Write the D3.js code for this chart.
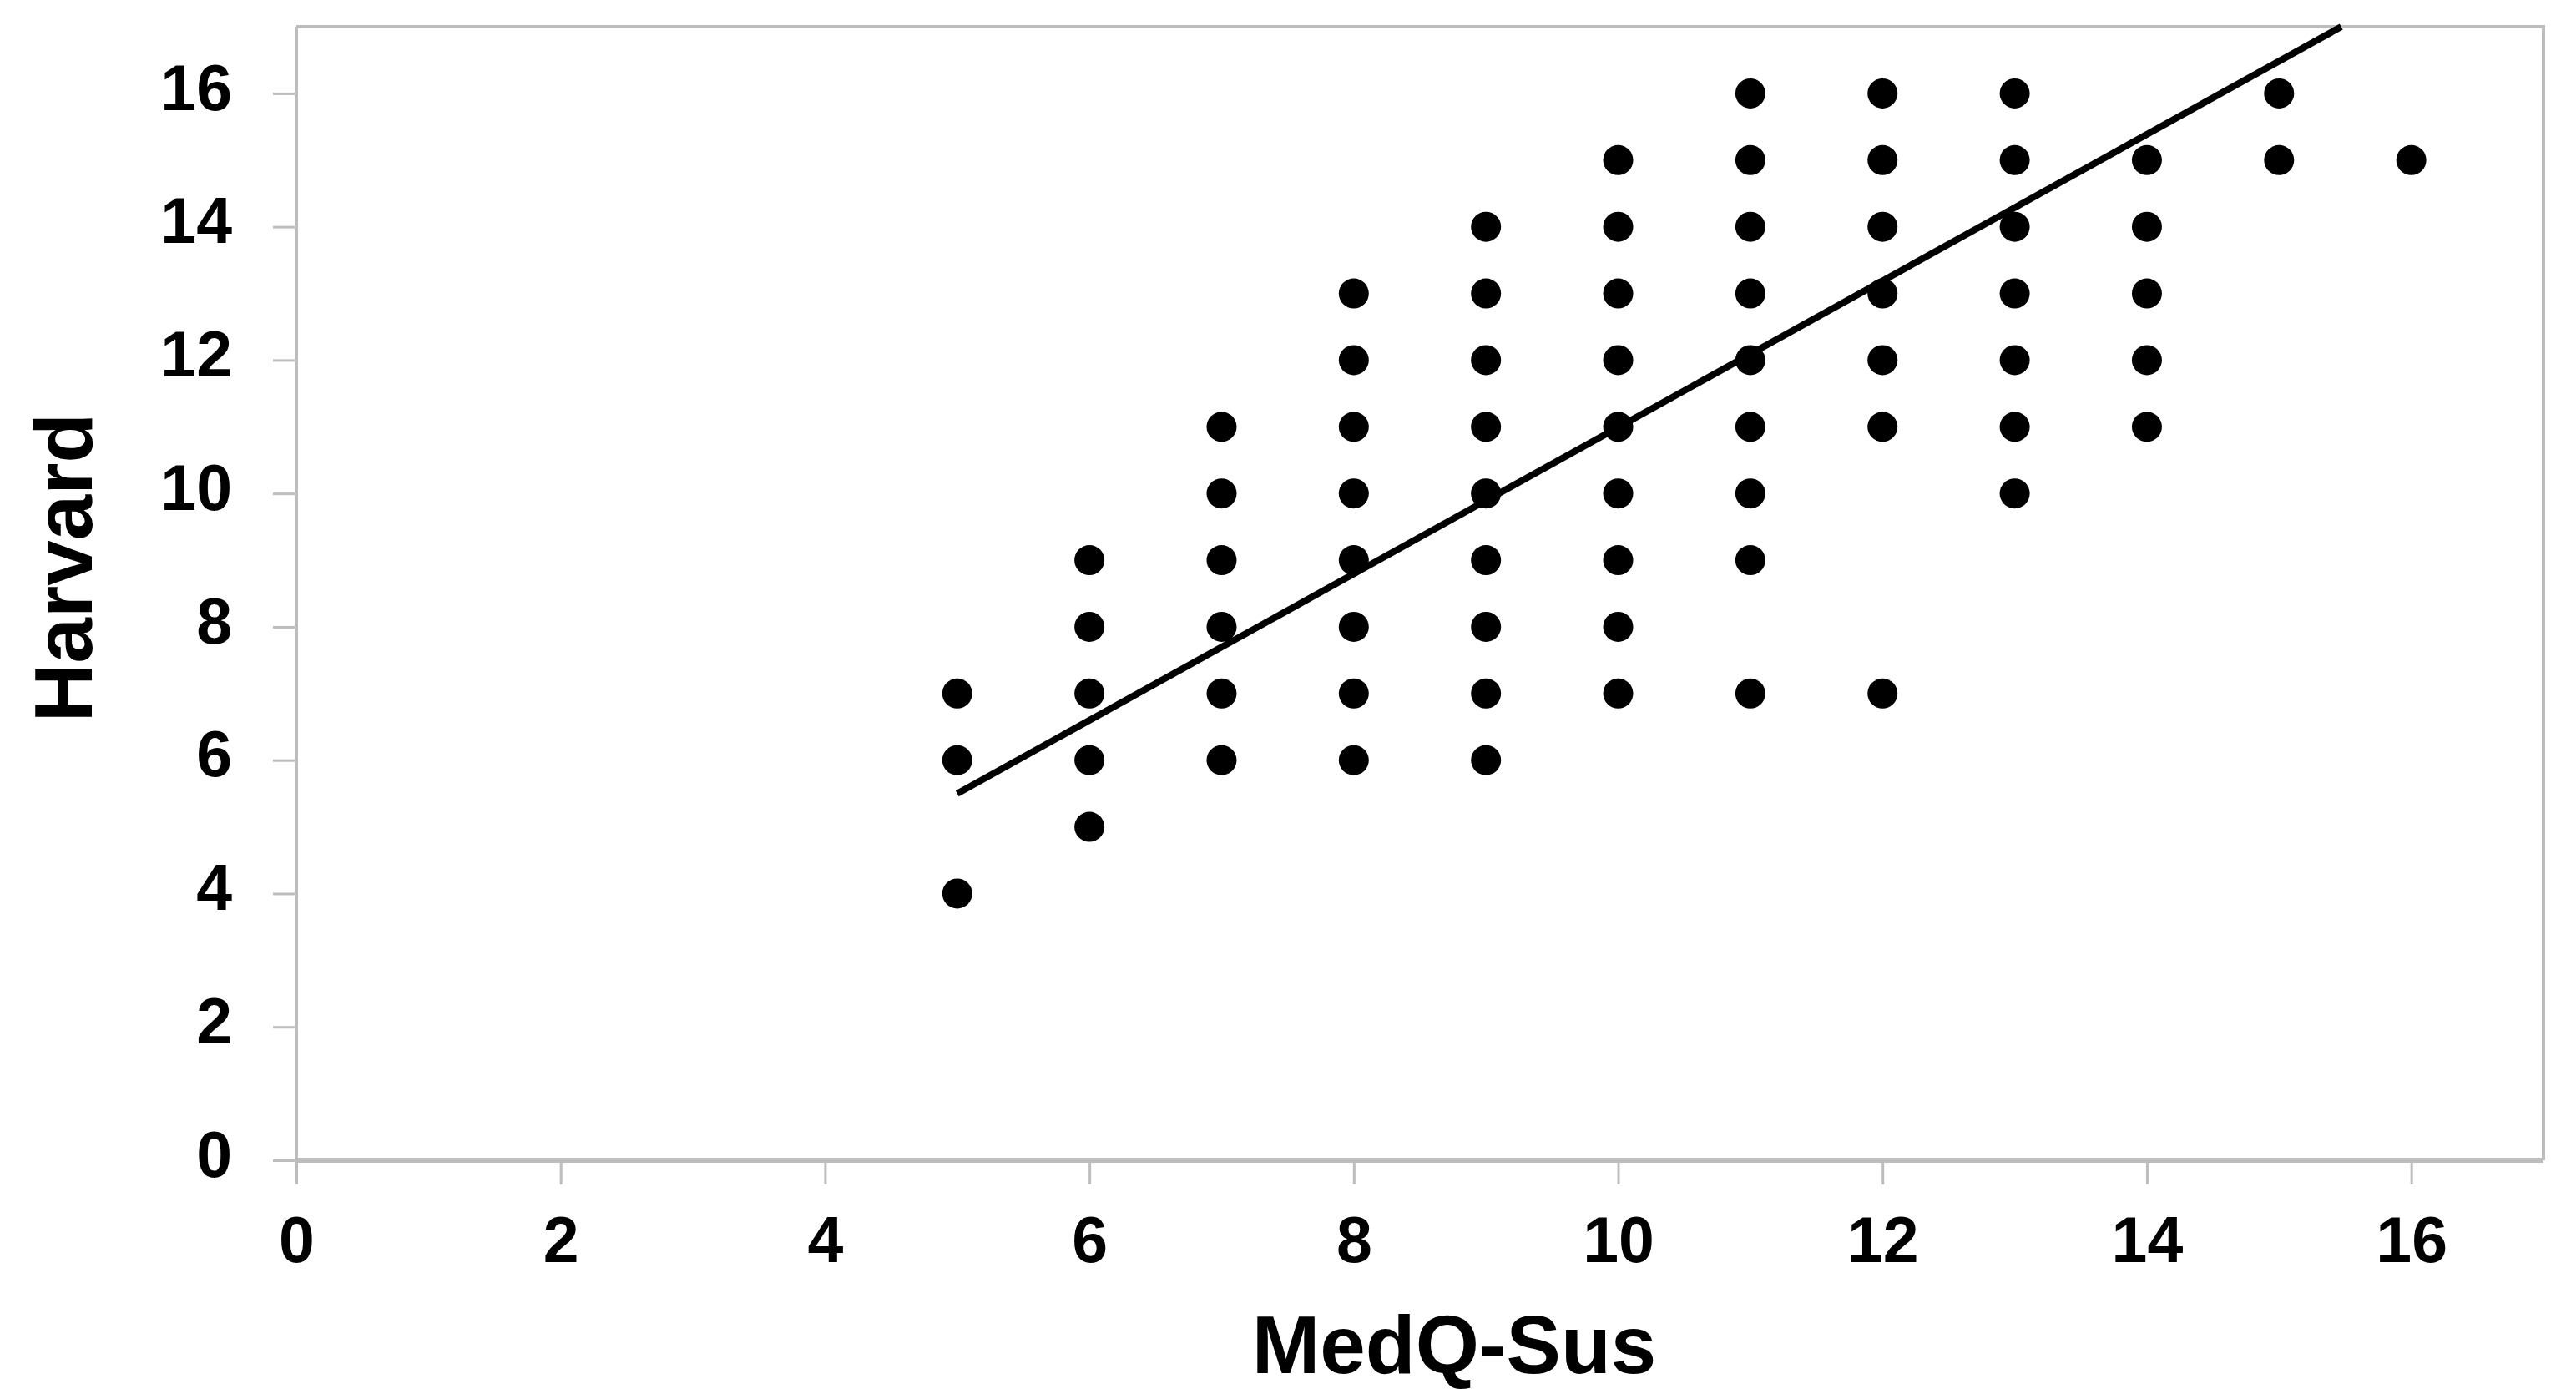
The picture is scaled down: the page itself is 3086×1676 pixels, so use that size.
<!DOCTYPE html>
<html>
<head>
<meta charset="utf-8">
<script src="https://cdn.jsdelivr.net/npm/d3@7"></script>
<style>
  html, body { margin: 0; padding: 0; background: #fff; }
  svg { display: block; }
  text { font-family: "Liberation Sans", Arial, sans-serif; font-weight: bold; fill: #000; }
</style>
</head>
<body>
<svg id="chart" width="3086" height="1676"></svg>
<script>
// ---- data ----
const xTicks = [0, 2, 4, 6, 8, 10, 12, 14, 16];
const yTicks = [0, 2, 4, 6, 8, 10, 12, 14, 16];
const xLabel = "MedQ-Sus";
const yLabel = "Harvard";

// MedQ-Sus score of each point
const pointX = [
  5, 5, 5,
  6, 6, 6, 6, 6,
  7, 7, 7, 7, 7, 7,
  8, 8, 8, 8, 8, 8, 8, 8,
  9, 9, 9, 9, 9, 9, 9, 9, 9,
  10, 10, 10, 10, 10, 10, 10, 10, 10,
  11, 11, 11, 11, 11, 11, 11, 11, 11,
  12, 12, 12, 12, 12, 12, 12,
  13, 13, 13, 13, 13, 13, 13,
  14, 14, 14, 14, 14,
  15, 15,
  16
];
// Harvard score of each point
const pointY = [
  7, 6, 4,
  9, 8, 7, 6, 5,
  11, 10, 9, 8, 7, 6,
  13, 12, 11, 10, 9, 8, 7, 6,
  14, 13, 12, 11, 10, 9, 8, 7, 6,
  15, 14, 13, 12, 11, 10, 9, 8, 7,
  16, 15, 14, 13, 12, 11, 10, 9, 7,
  16, 15, 14, 13, 12, 11, 7,
  16, 15, 14, 13, 12, 11, 10,
  15, 14, 13, 12, 11,
  16, 15,
  15
];
// linear trend line end points
const trendX = [5, 15.47];
const trendY = [5.5, 17];

// ---- layout ----
const plot = { left: 355, right: 3047, top: 32, bottom: 1390 };
const axisColor = "#bdbdbd";

const svg = d3.select("#chart");

const x = d3.scaleLinear().domain([0, 17]).range([plot.left, plot.right]);
const y = d3.scaleLinear().domain([0, 17]).range([plot.bottom, plot.top]);

// plot frame (top & right)
svg.append("path")
  .attr("d", `M${plot.left},${plot.top} H${plot.right} V${plot.bottom}`)
  .attr("fill", "none")
  .attr("stroke", axisColor)
  .attr("stroke-width", 4);

// y axis
const yAxis = svg.append("g")
  .attr("transform", `translate(${plot.left},0)`)
  .call(d3.axisLeft(y).tickValues(yTicks).tickSize(28).tickPadding(49).tickFormat(d3.format("d")));
yAxis.select(".domain").attr("stroke", axisColor).attr("stroke-width", 4)
  .attr("d", `M0,${plot.top} V${plot.bottom}`);
yAxis.selectAll(".tick line").attr("stroke", axisColor).attr("stroke-width", 3);
yAxis.selectAll(".tick text")
  .attr("font-size", 77)
  .attr("font-family", "'Liberation Sans', Arial, sans-serif")
  .attr("font-weight", "bold")
  .attr("fill", "#000")
  .attr("dy", "0.25em");

// x axis
const xAxis = svg.append("g")
  .attr("transform", `translate(0,${plot.bottom})`)
  .call(d3.axisBottom(x).tickValues(xTicks).tickSize(29).tickPadding(58).tickFormat(d3.format("d")));
xAxis.select(".domain").attr("stroke", axisColor).attr("stroke-width", 6)
  .attr("d", `M${plot.left},0 H${plot.right}`);
xAxis.selectAll(".tick line").attr("stroke", axisColor).attr("stroke-width", 3);
xAxis.selectAll(".tick text")
  .attr("font-size", 77)
  .attr("font-family", "'Liberation Sans', Arial, sans-serif")
  .attr("font-weight", "bold")
  .attr("fill", "#000")
  .attr("dy", "0.45em");

// points
svg.append("g")
  .selectAll("circle")
  .data(pointX.map((d, i) => [d, pointY[i]]))
  .join("circle")
  .attr("cx", d => x(d[0]))
  .attr("cy", d => y(d[1]))
  .attr("r", 18)
  .attr("fill", "#000");

// trend line
svg.append("path")
  .datum(trendX.map((d, i) => [d, trendY[i]]))
  .attr("d", d3.line().x(d => x(d[0])).y(d => y(d[1])))
  .attr("fill", "none")
  .attr("stroke", "#000")
  .attr("stroke-width", 8);

// axis titles
svg.append("text")
  .attr("x", 1742)
  .attr("y", 1645)
  .attr("text-anchor", "middle")
  .attr("font-size", 98)
  .text(xLabel);

svg.append("text")
  .attr("transform", "translate(110,680) rotate(-90)")
  .attr("text-anchor", "middle")
  .attr("font-size", 98)
  .text(yLabel);
</script>
</body>
</html>
